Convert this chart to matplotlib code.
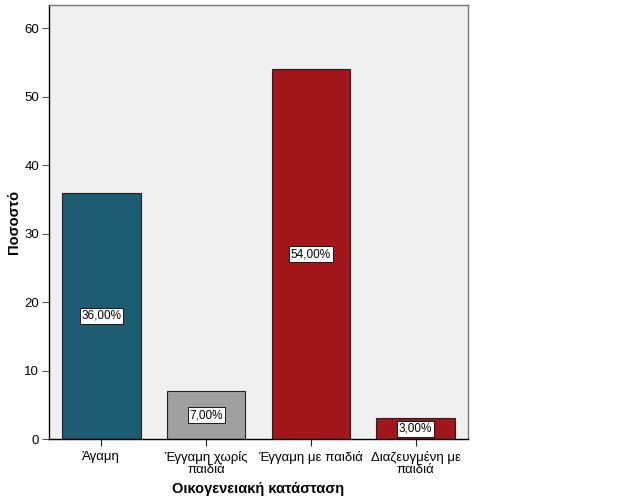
import matplotlib
matplotlib.use('Agg')
import matplotlib.pyplot as plt

plt.rcParams['font.family'] = ['Liberation Sans', 'DejaVu Sans']

categories = ['Άγαμη', 'Έγγαμη χωρίς\nπαιδιά', 'Έγγαμη με παιδιά', 'Διαζευγμένη με\nπαιδιά']
percentages = [36.0, 7.0, 54.0, 3.0]
bar_colors = ['#1e5c73', '#a0a0a0', '#a3161b', '#a3161b']

fig = plt.figure(figsize=(6.26, 5.01), dpi=100)
ax = fig.add_axes([49 / 626, 62 / 501, 419 / 626, 434 / 501])
ax.set_facecolor('#f0f0f0')

x = range(len(categories))
bars = ax.bar(x, percentages, width=0.75, color=bar_colors, edgecolor='#222222', linewidth=0.8)

# etiquetas en el centro de cada barra
for xi, val in zip(x, percentages):
    ax.text(xi, val / 2, f'{val:.2f}'.replace('.', ',') + '%', ha='center', va='center', fontsize=8.5,
            bbox=dict(boxstyle='square,pad=0.15', facecolor='white', edgecolor='black', linewidth=0.6))

ax.set_xlim(-0.5, 3.5)
ax.set_ylim(0, 63.4)
ax.set_yticks([0, 10, 20, 30, 40, 50, 60])
ax.set_xticks(list(x))
ax.set_xticklabels(categories, fontsize=9.5, linespacing=1.05)
ax.tick_params(axis='y', labelsize=9.5, length=5, width=0.8, pad=2, color='#555555')
ax.tick_params(axis='x', length=5, width=0.8, color='#222222')

for side in ['left', 'bottom']:
    ax.spines[side].set_color('black')
    ax.spines[side].set_linewidth(1.0)
for side in ['top', 'right']:
    ax.spines[side].set_color('#777777')
    ax.spines[side].set_linewidth(1.0)

ax.set_xlabel('Οικογενειακή κατάσταση', fontsize=10.5, fontweight='bold', labelpad=4)
ax.set_ylabel('Ποσοστό', fontsize=10.5, fontweight='bold')
ax.yaxis.set_label_coords(-0.068, 0.5)

fig.savefig('out.png', dpi=100, facecolor='white')
